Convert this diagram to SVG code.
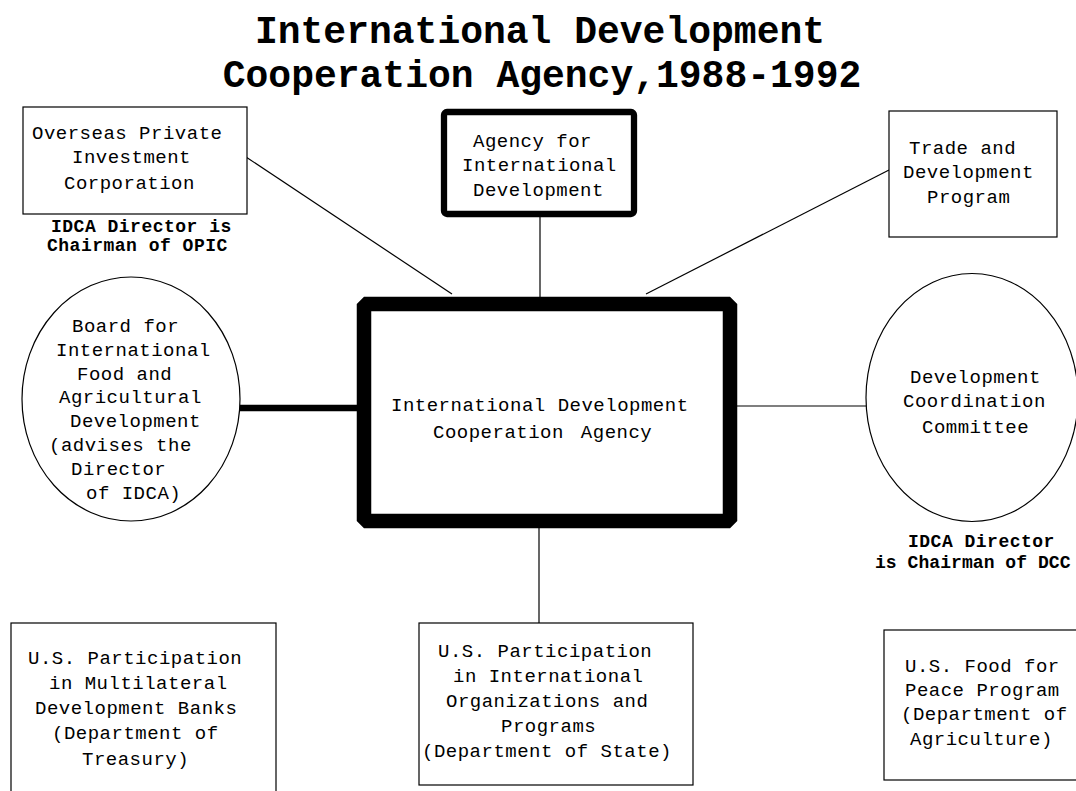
<svg xmlns="http://www.w3.org/2000/svg" width="1076" height="791" viewBox="0 0 1076 791">
  <style>
    .title { font-family: "Liberation Mono", "Courier New", monospace; font-weight: bold; font-size: 38px; text-anchor: middle; fill: #000; }
    .t { font-family: "Liberation Mono", "Courier New", monospace; font-size: 19px; letter-spacing: 0.5px; fill: #000; }
    .note { font-family: "Liberation Mono", "Courier New", monospace; font-weight: bold; font-size: 18px; letter-spacing: 0.5px; fill: #000; }
    .box { fill: #fff; stroke: #000; stroke-width: 1.2; }
    .oval { fill: #fff; stroke: #000; stroke-width: 1.2; }
    .thin { stroke: #000; stroke-width: 1.2; fill: none; }
  </style>
  <rect width="1076" height="791" fill="#fff"/>

  <g id="title">
    <text class="title" x="540" y="43">International Development</text>
    <text class="title" x="542" y="87">Cooperation Agency,1988-1992</text>
  </g>

  <!-- links to the central agency -->
  <g id="connectors">
    <line class="thin" x1="246" y1="157" x2="452" y2="294"/>
    <line class="thin" x1="540" y1="217" x2="540" y2="297"/>
    <line class="thin" x1="889" y1="170" x2="646" y2="294"/>
    <line x1="240" y1="408" x2="358" y2="408" stroke="#000" stroke-width="6.5"/>
    <line class="thin" x1="737" y1="406" x2="866" y2="406"/>
    <line class="thin" x1="539" y1="528" x2="539" y2="623"/>
  </g>

  <g id="opic">
    <rect class="box" x="23" y="107" width="224" height="107"/>
    <text class="t" x="32" y="139">Overseas Private</text>
    <text class="t" x="72" y="163">Investment</text>
    <text class="t" x="64" y="189">Corporation</text>
    <text class="note" x="51" y="232">IDCA Director is</text>
    <text class="note" x="47" y="251">Chairman of OPIC</text>
  </g>

  <g id="aid">
    <rect x="444" y="112" width="190" height="102" rx="3" fill="#fff" stroke="#000" stroke-width="6.3"/>
    <text class="t" x="473" y="147">Agency for</text>
    <text class="t" x="462" y="171">International</text>
    <text class="t" x="473" y="196">Development</text>
  </g>

  <g id="tdp">
    <rect class="box" x="889" y="111" width="168" height="126"/>
    <text class="t" x="909" y="154">Trade and</text>
    <text class="t" x="903" y="178">Development</text>
    <text class="t" x="927" y="203">Program</text>
  </g>

  <g id="idca">
    <rect x="364" y="304" width="366" height="217" fill="#fff" stroke="#000" stroke-width="14.5" stroke-linejoin="bevel"/>
    <text class="t" x="391" y="411">International Development</text>
    <text class="t" x="433" y="438">Cooperation <tspan dx="5">Agency</tspan></text>
  </g>

  <g id="bifad">
    <ellipse class="oval" cx="131" cy="399" rx="109" ry="122"/>
    <text class="t" x="72" y="332">Board for</text>
    <text class="t" x="56" y="356">International</text>
    <text class="t" x="77" y="380">Food and</text>
    <text class="t" x="59" y="403">Agricultural</text>
    <text class="t" x="70" y="427">Development</text>
    <text class="t" x="49" y="451">(advises the</text>
    <text class="t" x="71" y="475">Director</text>
    <text class="t" x="86" y="499">of IDCA)</text>
  </g>

  <g id="dcc">
    <ellipse class="oval" cx="972" cy="397.5" rx="106" ry="124"/>
    <text class="t" x="910" y="383">Development</text>
    <text class="t" x="903" y="407">Coordination</text>
    <text class="t" x="922" y="433">Committee</text>
    <text class="note" x="908" y="547">IDCA Director</text>
    <text class="note" x="875" y="568" textLength="196" lengthAdjust="spacing">is Chairman of DCC</text>
  </g>

  <g id="mdb">
    <rect class="box" x="11" y="623" width="265" height="190"/>
    <text class="t" x="28" y="664">U.S. Participation</text>
    <text class="t" x="49" y="689">in Multilateral</text>
    <text class="t" x="35" y="714">Development Banks</text>
    <text class="t" x="52" y="739">(Department of</text>
    <text class="t" x="82" y="765">Treasury)</text>
  </g>

  <g id="io">
    <rect class="box" x="419" y="623" width="274" height="162"/>
    <text class="t" x="438" y="657">U.S. Participation</text>
    <text class="t" x="453" y="682">in International</text>
    <text class="t" x="446" y="707">Organizations and</text>
    <text class="t" x="501" y="732">Programs</text>
    <text class="t" x="422" y="757">(Department of State)</text>
  </g>

  <g id="ffp">
    <rect class="box" x="884" y="630" width="210" height="150"/>
    <text class="t" x="905" y="672">U.S. Food for</text>
    <text class="t" x="905" y="696">Peace Program</text>
    <text class="t" x="901" y="720">(Department of</text>
    <text class="t" x="910" y="745">Agriculture)</text>
  </g>
</svg>
